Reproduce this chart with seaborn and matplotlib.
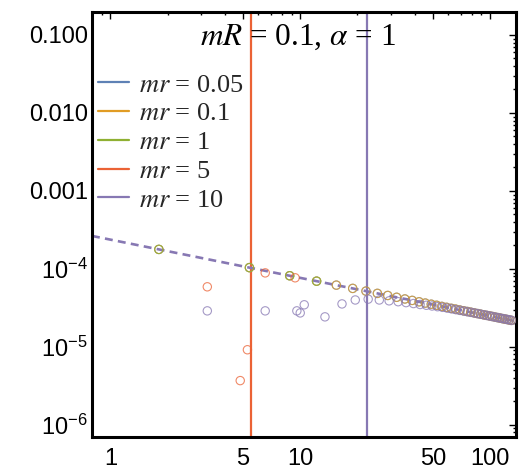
import numpy as np
import pandas as pd
import matplotlib
matplotlib.use("Agg")
import matplotlib.pyplot as plt
from matplotlib.lines import Line2D
from matplotlib.ticker import FixedLocator, FixedFormatter, NullFormatter
import seaborn as sns

# ---------------- data ----------------
series_labels = [r"$mr$ = 0.05", r"$mr$ = 0.1", r"$mr$ = 1", r"$mr$ = 5", r"$mr$ = 10"]
series_colors = ["#5E81B5", "#E19C24", "#8FB032", "#EB6235", "#8778B3"]

# dashed reference curve (straight on log-log)
curve_x = [0.8, 137.0]
curve_y = [2.65e-4, 2.13e-5]

# mr = 0.05 and mr = 0.1 (coincide)
low_x = [1.8, 5.4, 8.8, 12.2, 15.5, 18.9, 22.2, 25.5, 28.9, 32.2, 35.6, 38.9, 42.3,
         45.6, 49.0, 52.3, 55.7, 59.0, 62.4, 65.7, 69.1, 72.4, 75.8, 79.1, 82.5,
         85.8, 89.2, 92.5, 95.9, 99.2, 102.6, 105.9, 109.3, 112.6, 116.0, 119.3,
         122.7, 126.0, 129.4]
low_y = [1.78e-4, 1.04e-4, 8.18e-5, 6.97e-5, 6.20e-5, 5.63e-5, 5.20e-5, 4.86e-5,
         4.57e-5, 4.33e-5, 4.12e-5, 3.95e-5, 3.79e-5, 3.65e-5, 3.53e-5, 3.42e-5,
         3.31e-5, 3.22e-5, 3.13e-5, 3.06e-5, 2.98e-5, 2.91e-5, 2.85e-5, 2.79e-5,
         2.73e-5, 2.68e-5, 2.63e-5, 2.58e-5, 2.54e-5, 2.50e-5, 2.46e-5, 2.42e-5,
         2.38e-5, 2.35e-5, 2.31e-5, 2.28e-5, 2.25e-5, 2.22e-5, 2.19e-5]

# mr = 1
mid_x = [1.8, 5.4, 8.8, 12.2]
mid_y = [1.78e-4, 1.04e-4, 8.18e-5, 6.97e-5]

# mr = 5
red_x = [3.24, 4.83, 5.27, 6.54, 9.4]
red_y = [5.9e-5, 3.7e-6, 9.2e-6, 8.9e-5, 7.7e-5]

# mr = 10
pur_x = [3.24, 6.54, 9.6, 10.0, 10.5, 13.5, 16.6, 19.5, 22.8, 26.1, 29.4, 32.8,
         36.1, 39.5, 42.8, 46.2, 49.5, 52.9, 56.2, 59.6, 62.9, 66.3, 69.6, 73.0,
         76.3, 79.7, 83.0, 86.4, 89.7, 93.1, 96.4, 99.8, 103.1, 106.5, 109.8,
         113.2, 116.5, 119.9, 123.2, 126.6, 129.9]
pur_y = [2.9e-5, 2.9e-5, 2.9e-5, 2.73e-5, 3.47e-5, 2.43e-5, 3.56e-5, 4.0e-5, 4.1e-5,
         4.0e-5, 3.9e-5, 3.8e-5, 3.7e-5, 3.6e-5, 3.5e-5, 3.42e-5, 3.35e-5, 3.28e-5,
         3.22e-5, 3.14e-5, 3.07e-5, 3.0e-5, 2.94e-5, 2.88e-5, 2.82e-5, 2.77e-5,
         2.72e-5, 2.67e-5, 2.62e-5, 2.58e-5, 2.53e-5, 2.49e-5, 2.45e-5, 2.41e-5,
         2.38e-5, 2.34e-5, 2.31e-5, 2.28e-5, 2.25e-5, 2.22e-5, 2.19e-5]

# vertical markers
vline_x = [5.5, 22.5]
vline_colors = ["#EB6235", "#8778B3"]

# ticks
xtick_major = [1, 5, 10, 50, 100]
xtick_labels = ["1", "5", "10", "50", "100"]
ytick_major = [1e-6, 1e-5, 1e-4, 1e-3, 1e-2, 1e-1]
ytick_labels = [r"$\mathregular{10^{-6}}$", r"$\mathregular{10^{-5}}$",
                r"$\mathregular{10^{-4}}$", "0.001", "0.010", "0.100"]
title_text = r"$mR$ = 0.1, $\alpha$ = 1"

# ---------------- plotting ----------------
sns.set_theme(style="white")
plt.rcParams["font.family"] = ["Liberation Sans", "DejaVu Sans"]
plt.rcParams["mathtext.fontset"] = "stix"

fig = plt.figure(figsize=(5.32, 4.73), dpi=100)
ax = fig.add_axes([92 / 532, 1 - 437 / 473, (516 - 92) / 532, (437 - 12) / 473])
ax.set_xscale("log")
ax.set_yscale("log")

for vx, vc in zip(vline_x, vline_colors):
    ax.axvline(vx, color=vc, lw=1.6, zorder=1)

curve_df = pd.DataFrame({"x": curve_x, "y": curve_y})
sns.lineplot(data=curve_df, x="x", y="y", ax=ax, color=series_colors[4], lw=1.9,
             linestyle=(0, (3.0, 2.0)), zorder=2, legend=False)

pts = [(low_x, low_y, series_colors[0]), (low_x, low_y, series_colors[1]),
       (mid_x, mid_y, series_colors[2]), (red_x, red_y, series_colors[3]),
       (pur_x, pur_y, series_colors[4])]
for px_, py_, c in pts:
    sns.scatterplot(x=px_, y=py_, ax=ax, marker="o", s=36, facecolor="none",
                    edgecolor=c, color=c, linewidth=0.8, alpha=0.75, zorder=3,
                    legend=False)

ax.set_xlim(0.80, 137)
ax.set_ylim(7.0e-7, 0.197)

ax.xaxis.set_major_locator(FixedLocator(xtick_major))
ax.xaxis.set_major_formatter(FixedFormatter(xtick_labels))
minor_x = [m * 10 ** d for d in range(-1, 3) for m in range(1, 10)]
minor_x = [v for v in minor_x if v not in xtick_major]
ax.xaxis.set_minor_locator(FixedLocator(minor_x))
ax.xaxis.set_minor_formatter(NullFormatter())

ax.yaxis.set_major_locator(FixedLocator(ytick_major))
ax.yaxis.set_major_formatter(FixedFormatter(ytick_labels))
minor_y = [m * 10.0 ** d for d in range(-7, 0) for m in range(2, 10)]
ax.yaxis.set_minor_locator(FixedLocator(minor_y))
ax.yaxis.set_minor_formatter(NullFormatter())

ax.tick_params(which="both", direction="in", top=True, right=True, colors="black",
               labelsize=17, width=1.0)
ax.tick_params(which="major", length=5)
ax.tick_params(which="minor", length=2.5)
ax.tick_params(axis="x", pad=8)
ax.tick_params(axis="y", pad=3)
ax.set_xlabel("")
ax.set_ylabel("")
for s in ax.spines.values():
    s.set_color("black")
    s.set_linewidth(2.2)
ax.grid(False)

ax.text(0.486, 0.941, title_text, transform=ax.transAxes, ha="center", va="center",
        fontsize=22.5, color="black", family=["Liberation Serif", "DejaVu Serif"])

handles = [Line2D([0], [0], color=c, lw=1.6) for c in series_colors]
ax.legend(handles, series_labels, loc="upper left", bbox_to_anchor=(0.015, 0.856),
          frameon=False, handlelength=1.15, handletextpad=0.4,
          labelspacing=0.2, borderaxespad=0, borderpad=0,
          prop={"family": ["Liberation Serif", "DejaVu Serif"], "size": 19})

fig.savefig("out.png", dpi=100)
